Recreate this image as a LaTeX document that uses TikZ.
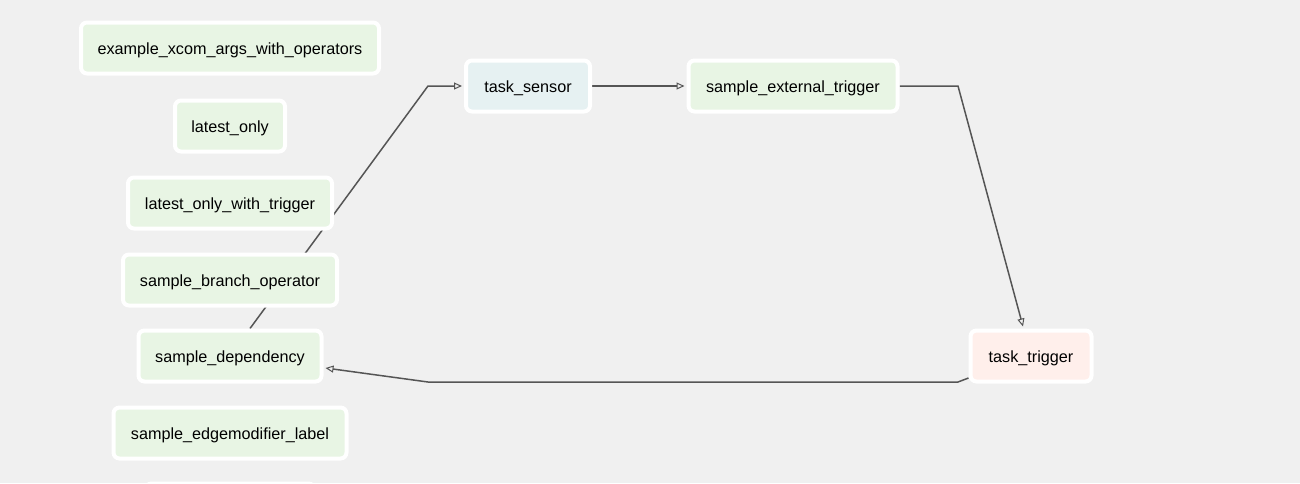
\documentclass[tikz,border=0pt]{standalone}
\usepackage{fontspec}
\setmainfont{Liberation Sans}
\usetikzlibrary{arrows.meta,backgrounds}
\definecolor{bg}{HTML}{F0F0F0}
\definecolor{gfill}{HTML}{E8F5E4}
\definecolor{bfill}{HTML}{E6F1F2}
\definecolor{rfill}{HTML}{FFEFEB}
\definecolor{edgec}{HTML}{555555}
\tikzset{
  task/.style={draw=white, line width=4pt, rounded corners=6pt, minimum height=51pt,
    inner xsep=0pt, inner ysep=0pt, text height=14pt, text depth=2pt,
    font=\fontsize{16.2}{18}\selectfont, text=black, fill=gfill},
  edge/.style={draw=edgec, line width=1.5pt, -{Triangle[open,length=8pt,width=7pt,line width=1pt]}},
}
\begin{document}
\begin{tikzpicture}[x=1pt,y=-1pt]
\clip (0,0) rectangle (1300,483);
\node[task, minimum width=298pt] (xcom) at (230,48) {example\_xcom\_args\_with\_operators};
\node[task, minimum width=110pt] (lo) at (230,126) {latest\_only};
\node[task, minimum width=204pt] (lowt) at (230,203) {latest\_only\_with\_trigger};
\node[task, minimum width=214pt] (sbo) at (230,280) {sample\_branch\_operator};
\node[task, minimum width=183pt] (sd) at (230,356) {sample\_dependency};
\node[task, minimum width=233pt] (sel) at (230,433) {sample\_edgemodifier\_label};
\node[task, minimum width=169pt] (nxt) at (230,509) {};
\node[task, minimum width=124pt, fill=bfill] (ts) at (528,86) {task\_sensor};
\node[task, minimum width=209pt] (set) at (793,86) {sample\_external\_trigger};
\node[task, minimum width=121pt, fill=rfill] (tt) at (1031,356) {task\_trigger};
\coordinate (b1) at (428,86);
\coordinate (b2) at (958,86);
\coordinate (b3) at (958,382);
\coordinate (b4) at (428,382);
\begin{scope}[on background layer]
\fill[bg] (0,0) rectangle (1300,483);
\draw[edge] ([xshift=20pt]sd.north) -- (b1) -- ([xshift=-2pt]ts.west);
\draw[edge] (ts.east) -- ([xshift=-2pt]set.west);
\draw[edge] (set.east) -- (b2) -- ([xshift=-8pt,yshift=2pt]tt.north);
\draw[edge] ([yshift=-22pt]tt.west) -- (b3) -- (b4) -- ([xshift=2pt,yshift=-12pt]sd.east);
\end{scope}
\end{tikzpicture}
\end{document}
